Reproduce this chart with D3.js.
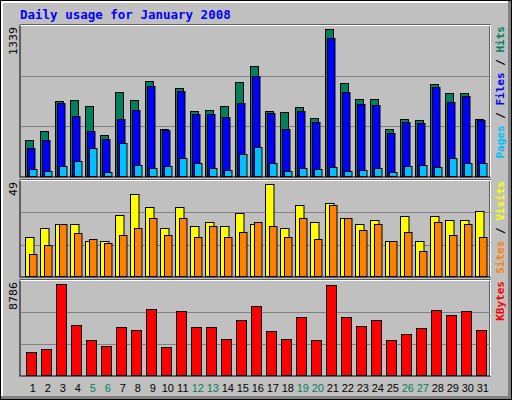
<!DOCTYPE html>
<html><head><meta charset="utf-8">
<script src="https://cdn.jsdelivr.net/npm/d3@7"></script>
<style>body{margin:0;background:#fff}</style></head>
<body><svg id="c" width="512" height="400"></svg>
<script>
var days = d3.range(1, 32);
var weekend = [5, 6, 12, 13, 19, 20, 26, 27];
var hits = [339,412,685,694,639,376,766,694,866,430,803,594,603,639,857,1003,594,585,630,530,1339,848,703,703,430,521,512,839,757,757,521];
var files = [258,339,666,548,412,348,521,603,821,421,776,566,566,539,666,912,576,430,594,494,1257,766,657,648,394,494,485,812,676,730,512];
var pages = [76,58,103,148,258,48,312,112,85,103,176,130,85,67,212,267,130,58,85,76,94,58,67,85,48,103,112,94,176,130,130];
var visits = [21,26,28,28,19,19,33,44,37,26,37,27,29,27,34,28,49,26,38,29,39,31,28,30,19,32,19,32,30,30,35];
var sites = [12,17,28,23,20,18,22,26,31,22,31,21,27,21,24,29,27,21,31,20,38,31,25,28,19,24,14,29,22,28,21];
var kbytes = [2309,2598,8786,4906,3463,2886,4714,4425,6446,2790,6254,4714,4714,3560,5388,6638,4329,3560,5676,3463,8659,5676,4810,5388,3463,4041,4618,6350,5869,6254,4425];

var svg = d3.select('#c');
var font = '"DejaVu Sans Mono", monospace';

// background and bevel
svg.append('rect').attr('x',0).attr('y',0).attr('width',512).attr('height',400).attr('fill','#000');
svg.append('rect').attr('x',1).attr('y',1).attr('width',510).attr('height',398).attr('fill','#808080');
svg.append('rect').attr('x',1).attr('y',1).attr('width',507).attr('height',395).attr('fill','#fff');
svg.append('rect').attr('x',3).attr('y',3).attr('width',505).attr('height',393).attr('fill','#c0c0c0');

svg.append('text').attr('x',20).attr('y',19).attr('fill','#0000ff')
  .style('font-family',font).style('font-weight','bold').style('font-size','12.5px')
  .text('Daily usage for January 2008');

var x = d3.scaleLinear().domain([1, 31]).range([25.3, 475.3]);

var panels = [
  {top:25, bottom:177, max:1339, maxY:29, label:'1339',
   series:[{v:hits,c:'#00805c',dx:0,w:8},{v:files,c:'#0000ff',dx:2,w:7.5},{v:pages,c:'#00c0ff',dx:4,w:7.5}],
   legend:[['Pages','#00c0ff'],[' / ','#000'],['Files','#0000ff'],[' / ','#000'],['Hits','#00805c']]},
  {top:180, bottom:277, max:49, maxY:184.3, label:'49',
   series:[{v:visits,c:'#ffff00',dx:0,w:8.5},{v:sites,c:'#ff8000',dx:4,w:7.5}],
   legend:[['Sites','#ff8000'],[' / ','#000'],['Visits','#ffff00']]},
  {top:280, bottom:376, max:8786, maxY:284, label:'8786',
   series:[{v:kbytes,c:'#ff0000',dx:1,w:10}],
   legend:[['KBytes','#ff0000']]}
];

panels.forEach(function(p) {
  var g = svg.append('g');
  g.append('rect').attr('x',20).attr('y',p.top).attr('width',470).attr('height',p.bottom-p.top)
    .attr('fill','#c0c0c0').attr('stroke','#000');
  g.append('line').attr('x1',20).attr('x2',490).attr('y1',p.top+0.5).attr('y2',p.top+0.5).attr('stroke','#fff');
  g.append('line').attr('x1',490.5).attr('x2',490.5).attr('y1',p.top).attr('y2',p.bottom).attr('stroke','#fff');
  var frac = d3.scaleLinear().domain([0,1]).range([p.bottom, p.top]);
  [1/3, 2/3].forEach(function(f) {
    g.append('line').attr('x1',21).attr('x2',490).attr('y1',Math.round(frac(f))+0.5).attr('y2',Math.round(frac(f))+0.5)
      .attr('stroke','#808080');
  });
  var y = d3.scaleLinear().domain([0, p.max]).range([p.bottom, p.maxY]);
  p.series.forEach(function(s) {
    g.selectAll(null).data(s.v).enter().append('rect')
      .attr('x', function(d,i){ return Math.round(x(days[i]) + s.dx) + 0.5; })
      .attr('y', function(d){ return Math.round(y(d)) + 0.5; })
      .attr('width', s.w)
      .attr('height', function(d){ return p.bottom - Math.round(y(d)) - 1; })
      .attr('fill', s.c).attr('stroke','#000');
  });
  g.append('text').attr('transform','translate(17,'+(p.top+2)+') rotate(-90)')
    .attr('text-anchor','end').style('font-family','"DejaVu Sans", sans-serif').style('font-size','11px')
    .text(p.label);
  var t = g.append('text').attr('transform','translate(504,'+(p.top+1)+') rotate(-90)')
    .style('font-family',font).style('font-weight','bold').style('font-size','11px')
    .attr('text-anchor','end');
  p.legend.forEach(function(l){
    t.append('tspan').attr('fill',l[1]).text(l[0]);
  });
});

svg.selectAll('.day').data(days).enter().append('text')
  .attr('x', function(d){ return x(d) + 7.5; }).attr('y', 392)
  .attr('text-anchor','middle').style('font-family','"Liberation Sans", sans-serif').style('font-size','11px')
  .attr('fill', function(d){ return weekend.indexOf(d) >= 0 ? '#00805c' : '#000'; })
  .text(function(d){ return d; });
</script></body></html>
